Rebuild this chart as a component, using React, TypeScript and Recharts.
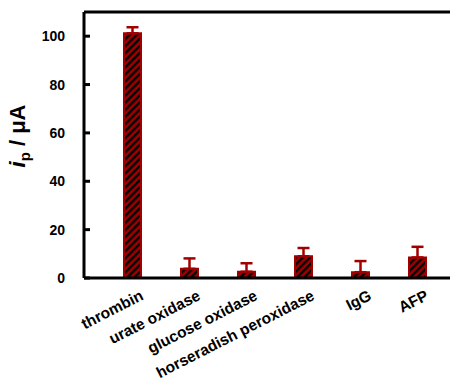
import { Bar, BarChart, ErrorBar, Label, ReferenceLine, XAxis, YAxis } from 'recharts';

const proteins = ['thrombin', 'urate oxidase', 'glucose oxidase', 'horseradish peroxidase', 'IgG', 'AFP'];
const peakCurrent = [101.2, 3.8, 2.6, 9.0, 2.4, 8.5];
const currentError = [2.5, 4.3, 3.5, 3.4, 4.6, 4.4];
const yTicks = [0, 20, 40, 60, 80, 100];

const data = proteins.map((name, i) => ({
  name,
  ip: peakCurrent[i],
  err: [0, currentError[i]],
}));

const AXIS_X = 84;
const RED = '#a00000';

function YTick({ y, payload }: any) {
  return (
    <g>
      <line x1={AXIS_X} x2={AXIS_X + 6} y1={y} y2={y} stroke="#000" strokeWidth={3} />
      <text
        x={AXIS_X - 19}
        y={y}
        dy={5}
        textAnchor="end"
        fontSize={14}
        fontWeight="bold"
        fill="#000"
      >
        {payload.value}
      </text>
    </g>
  );
}

// category names slanted upward to the right, ending just past each bar
function XTick({ x, y, payload }: any) {
  return (
    <g transform={`translate(${x + 12}, ${y + 13}) rotate(-27)`}>
      <text x={0} y={0} textAnchor="end" fontSize={15.5} fontWeight="bold" fill="#000">
        {payload.value}
      </text>
    </g>
  );
}

function YTitle() {
  return (
    <text
      transform="translate(25, 136) rotate(-90)"
      textAnchor="middle"
      fontSize={22}
      fontWeight="bold"
      fill="#000"
    >
      <tspan fontStyle="italic">i</tspan>
      <tspan fontSize={15} dy={5}>p</tspan>
      <tspan dy={-5}> / μA</tspan>
    </text>
  );
}

export default function App() {
  return (
    <div style={{ position: 'absolute', left: 0, top: 0, fontFamily: '"Liberation Sans", Arial, sans-serif' }}>
      <BarChart
        width={450}
        height={385}
        data={data}
        margin={{ top: 12, right: 0, bottom: 0, left: 0 }}
      >
        <defs>
          <pattern id="hatch" width="5" height="5" patternUnits="userSpaceOnUse" patternTransform="rotate(45)">
            <rect width="5" height="5" fill={RED} />
            <rect width="2.4" height="5" fill="#000" />
          </pattern>
        </defs>
        <XAxis
          dataKey="name"
          height={107}
          interval={0}
          padding={{ left: 20, right: 4 }}
          axisLine={{ stroke: '#000', strokeWidth: 3 }}
          tickLine={false}
          tick={<XTick />}
        />
        <YAxis
          width={AXIS_X}
          domain={[0, 110]}
          ticks={yTicks}
          allowDataOverflow
          axisLine={{ stroke: '#000', strokeWidth: 3 }}
          tickLine={false}
          tick={<YTick />}
        >
          <Label content={<YTitle />} />
        </YAxis>
        <ReferenceLine y={110} stroke="#000" strokeWidth={3} />
        <Bar dataKey="ip" barSize={17} fill="url(#hatch)" stroke={RED} strokeWidth={2} isAnimationActive={false}>
          <ErrorBar dataKey="err" width={6} stroke={RED} strokeWidth={2.5} direction="y" />
        </Bar>
      </BarChart>
    </div>
  );
}
